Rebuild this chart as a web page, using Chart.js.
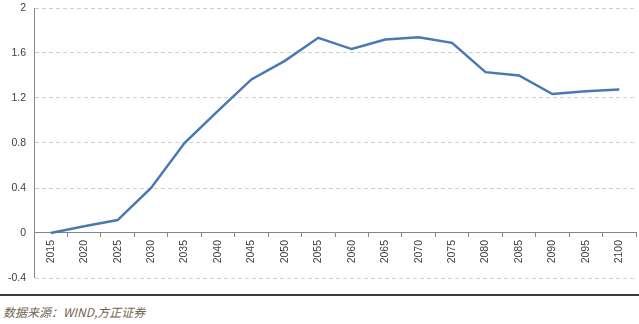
<!DOCTYPE html>
<html>
<head>
<meta charset="utf-8">
<script src="https://cdn.jsdelivr.net/npm/chart.js@4"></script>
<style>
  html, body { margin: 0; padding: 0; background: #fff; }
  body { width: 639px; height: 324px; position: relative; overflow: hidden; }
  #wrap { position: absolute; left: 0; top: 0; width: 639px; height: 293px; }
  #sep { position: absolute; left: 0; top: 294px; width: 639px; height: 2px; background: #3a3a3a; }
  #src { position: absolute; left: 3px; top: 303px; font-family: "Noto Sans CJK SC", "DejaVu Serif", serif; font-style: italic; font-size: 12px; color: #6f6650; white-space: nowrap; }
</style>
</head>
<body>
<div id="wrap"><canvas id="c"></canvas></div>
<div id="sep"></div>
<div id="src">数据来源：WIND,方正证券</div>
<script>
const categories = ["2015","2020","2025","2030","2035","2040","2045","2050","2055","2060","2065","2070","2075","2080","2085","2090","2095","2100"];
const seriesValues = [0.0, 0.06, 0.115, 0.40, 0.80, 1.085, 1.365, 1.53, 1.735, 1.635, 1.72, 1.74, 1.69, 1.43, 1.40, 1.235, 1.26, 1.275];
const yTicks = [-0.4, 0, 0.4, 0.8, 1.2, 1.6, 2];

const axisColor = '#868686';
new Chart(document.getElementById('c'), {
  type: 'line',
  data: {
    labels: categories,
    datasets: [{
      data: seriesValues,
      borderColor: '#4a78b3',
      borderWidth: 2.5,
      pointRadius: 0,
      tension: 0,
      fill: false
    }]
  },
  options: {
    responsive: true,
    maintainAspectRatio: false,
    animation: false,
    layout: { padding: { top: 8, right: 3, left: 0, bottom: 15 } },
    plugins: { legend: { display: false }, tooltip: { enabled: false } },
    scales: {
      x: {
        type: 'category',
        offset: true,
        position: { y: 0 },
        afterFit: s => { s.height = 0; s.paddingLeft = 0; s.paddingRight = 0; s.paddingTop = 0; s.paddingBottom = 0; },
        grid: { offset: true, drawOnChartArea: false, drawTicks: true, tickLength: 4, color: axisColor },
        border: { display: true, color: axisColor, width: 1 },
        ticks: {
          minRotation: 90, maxRotation: 90, autoSkip: false, padding: 3,
          color: '#404040', font: { family: 'Liberation Sans', size: 10.5 }
        }
      },
      y: {
        min: -0.4, max: 2,
        afterFit: s => { s.width = 34; s.paddingTop = 0; s.paddingBottom = 0; },
        afterBuildTicks: s => { s.ticks = yTicks.map(v => ({ value: v })); },
        grid: {
          drawTicks: false,
          color: ctx => (ctx.tick && ctx.tick.value === 0) ? 'rgba(0,0,0,0)' : '#d0d0d0',
          lineWidth: 1
        },
        border: { display: true, color: 'rgba(0,0,0,0)', dash: [4, 3] },
        ticks: {
          padding: 8,
          color: '#404040', font: { family: 'Liberation Sans', size: 10.5 },
          callback: v => String(Math.round(v * 10) / 10)
        }
      }
    }
  },
  plugins: [{
    id: 'solidAxis',
    afterDraw(chart) {
      const ctx = chart.ctx, a = chart.chartArea;
      ctx.save();
      ctx.strokeStyle = axisColor; ctx.lineWidth = 1;
      ctx.beginPath(); ctx.moveTo(a.left + 0.5, a.top); ctx.lineTo(a.left + 0.5, a.bottom); ctx.stroke();
      ctx.restore();
    }
  }]
});
</script>
</body>
</html>
